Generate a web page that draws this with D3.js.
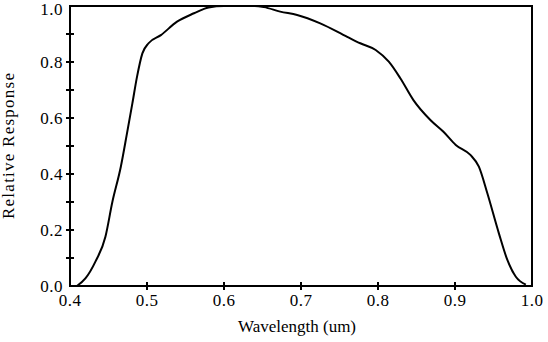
<!DOCTYPE html>
<html lang="en">
<head>
    <meta charset="UTF-8">
    <title>Relative Response</title>
    <script src="https://d3js.org/d3.v7.min.js"></script>
    <style>
        html, body { margin:0; background:#fff; }
        svg text { font-family: "Liberation Serif", "Times New Roman", serif; fill:#000; }
        .curve { fill:none; stroke:#000; stroke-width:2; }
    </style>
</head>
<body>
<div id="chart"></div>
<script>
    // wavelength (um) and relative response
    var wavelength = [0.409, 0.420, 0.433, 0.446, 0.455, 0.466, 0.474, 0.481, 0.487, 0.494, 0.502,
        0.518, 0.539, 0.561, 0.580, 0.600, 0.620, 0.640, 0.652, 0.673, 0.695, 0.725, 0.760,
        0.777, 0.797, 0.814, 0.829, 0.846, 0.868, 0.885, 0.901, 0.920, 0.931, 0.942, 0.957,
        0.968, 0.979, 0.992];
    var response = [0.0, 0.027, 0.087, 0.176, 0.30, 0.426, 0.545, 0.652, 0.747, 0.831, 0.867,
        0.896, 0.944, 0.974, 0.995, 1.0, 1.0, 1.0, 0.996, 0.98, 0.968, 0.938, 0.89,
        0.867, 0.843, 0.801, 0.742, 0.664, 0.593, 0.551, 0.504, 0.468, 0.426, 0.331, 0.188,
        0.093, 0.033, 0.005];
    var xTicks = [0.4, 0.5, 0.6, 0.7, 0.8, 0.9, 1.0];
    var yTicks = [0.0, 0.2, 0.4, 0.6, 0.8, 1.0];
    var yMinor = [0.1, 0.3, 0.5, 0.7, 0.9];

    var W = 548, H = 342;
    var margin = {top: 6, right: 16, bottom: 56, left: 70};
    var width = W - margin.left - margin.right;
    var height = H - margin.top - margin.bottom;

    var x = d3.scaleLinear().domain([0.4, 1.0]).range([0, width]);
    var y = d3.scaleLinear().domain([0, 1]).range([height, 0]);

    var svg = d3.select("#chart").append("svg")
        .attr("width", W).attr("height", H)
        .append("g")
        .attr("transform", "translate(" + margin.left + "," + margin.top + ")");

    // frame
    svg.append("rect")
        .attr("width", width).attr("height", height)
        .attr("fill", "none").attr("stroke", "#000").attr("stroke-width", 2);

    // x axis ticks crossing the bottom line
    var xAxis = svg.append("g").attr("transform", "translate(0," + height + ")");
    xAxis.selectAll("line").data(xTicks.slice(1, -1)).enter().append("line")
        .attr("x1", function(d) { return x(d); }).attr("x2", function(d) { return x(d); })
        .attr("y1", -4).attr("y2", 4)
        .attr("stroke", "#000").attr("stroke-width", 2);
    xAxis.selectAll("text").data(xTicks).enter().append("text")
        .attr("x", function(d) { return x(d); })
        .attr("y", 20)
        .attr("text-anchor", "middle")
        .attr("font-size", 17)
        .attr("letter-spacing", 0.5)
        .text(function(d) { return d3.format(".1f")(d); });

    // y axis ticks (major + minor)
    var yAxis = svg.append("g");
    yAxis.selectAll("line").data(yTicks.slice(1, -1).concat(yMinor)).enter().append("line")
        .attr("x1", -4).attr("x2", 4)
        .attr("y1", function(d) { return y(d); }).attr("y2", function(d) { return y(d); })
        .attr("stroke", "#000").attr("stroke-width", 2);
    yAxis.selectAll("text").data(yTicks).enter().append("text")
        .attr("x", -7)
        .attr("y", function(d) { return y(d) + (d === 1 ? 3 : 0); })
        .attr("dy", "0.35em")
        .attr("text-anchor", "end")
        .attr("font-size", 17)
        .attr("letter-spacing", 0.5)
        .text(function(d) { return d3.format(".1f")(d); });

    // axis titles
    svg.append("text")
        .attr("x", width / 2 - 4)
        .attr("y", height + 46)
        .attr("text-anchor", "middle")
        .attr("font-size", 17)
        .text("Wavelength (um)");
    svg.append("text")
        .attr("transform", "translate(" + (-56) + "," + (height / 2) + ") rotate(-90)")
        .attr("text-anchor", "middle")
        .attr("font-size", 17)
        .attr("textLength", 146)
        .attr("lengthAdjust", "spacing")
        .text("Relative Response");

    // response curve
    var pts = wavelength.map(function(w, i) { return [w, response[i]]; });
    var line = d3.line()
        .x(function(d) { return x(d[0]); })
        .y(function(d) { return y(d[1]); })
        .curve(d3.curveMonotoneX);
    svg.append("path").datum(pts).attr("class", "curve").attr("d", line);
</script>
</body>
</html>
